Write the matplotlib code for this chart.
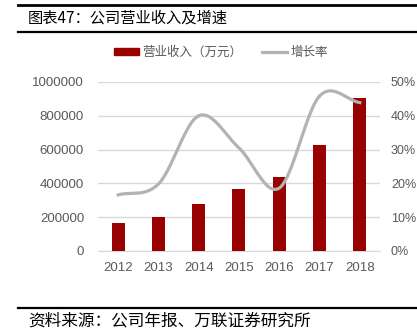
import numpy as np
import matplotlib
matplotlib.use("Agg")
import matplotlib.pyplot as plt
from matplotlib.lines import Line2D
from matplotlib.patches import Patch
from matplotlib.ticker import FuncFormatter

years = ["2012", "2013", "2014", "2015", "2016", "2017", "2018"]
revenue = [165000, 199000, 278000, 367000, 436000, 627000, 903000]
growth = [16.6, 19.8, 40.0, 30.5, 18.6, 45.8, 43.9]

plt.rcParams['font.family'] = ['Noto Sans CJK SC', 'DejaVu Sans']


def smooth(xs, ys, n=30):
    # Catmull-Rom curve through the points (like Excel smoothed line)
    xs = np.asarray(xs, float)
    ys = np.asarray(ys, float)
    px = np.concatenate([[2 * xs[0] - xs[1]], xs, [2 * xs[-1] - xs[-2]]])
    py = np.concatenate([[2 * ys[0] - ys[1]], ys, [2 * ys[-1] - ys[-2]]])
    ox, oy = [], []
    t = np.linspace(0, 1, n)
    for i in range(1, len(px) - 2):
        for p, o in ((px, ox), (py, oy)):
            p0, p1, p2, p3 = p[i - 1], p[i], p[i + 1], p[i + 2]
            o.extend(0.5 * ((2 * p1) + (-p0 + p2) * t
                            + (2 * p0 - 5 * p1 + 4 * p2 - p3) * t ** 2
                            + (-p0 + 3 * p1 - 3 * p2 + p3) * t ** 3))
    return ox, oy


fig = plt.figure(figsize=(4.17, 3.36), dpi=100)
ax = fig.add_axes([0.235, 0.253, 0.676, 0.503])
ax2 = ax.twinx()

x = np.arange(len(years))
bar_color = '#990000'
line_color = '#B3B3B3'
tick_color = '#595959'

ax.bar(x, revenue, width=0.32, color=bar_color, zorder=3)
ax.set_ylim(0, 1000000)
ax.set_yticks(range(0, 1000001, 200000))
ax.yaxis.set_major_formatter(FuncFormatter(lambda v, p: f"{int(v)}"))
ax.set_xlim(-0.5, len(years) - 0.5)
ax.set_xticks(x)
ax.set_xticklabels(years)
ax.yaxis.grid(True, color='#D9D9D9', linewidth=1, zorder=0)
ax.set_axisbelow(True)

sx, sy = smooth(x, growth)
ax2.plot(sx, sy, color=line_color, linewidth=2.3, zorder=4)
ax2.set_ylim(0, 50)
ax2.set_yticks(range(0, 51, 10))
ax2.set_yticklabels([f"{v}%" for v in range(0, 51, 10)])

for a in (ax, ax2):
    for s in a.spines.values():
        s.set_visible(False)
    a.tick_params(length=0, colors=tick_color, labelsize=9.5)
    for lab in a.get_xticklabels() + a.get_yticklabels():
        lab.set_fontfamily(['Liberation Sans', 'DejaVu Sans'])
ax.spines['bottom'].set_visible(True)
ax.spines['bottom'].set_color('#D9D9D9')
ax.tick_params(axis='y', pad=10)
ax.tick_params(axis='x', pad=8)
ax2.tick_params(axis='y', pad=8, labelsize=9)

handles = [Patch(color=bar_color), Line2D([], [], color=line_color, linewidth=2.3)]
fig.legend(handles, ["营业收入（万元）", "增长率"], loc='center',
           bbox_to_anchor=(0.53, 0.845), ncol=2, frameon=False,
           fontsize=9, labelcolor=tick_color, handlelength=2.0,
           handleheight=0.5, columnspacing=1.6, handletextpad=0.3)

# header and footer rules
fig.add_artist(Line2D([0.043, 1.0], [0.985, 0.985], color='black', linewidth=2))
fig.add_artist(Line2D([0.043, 1.0], [0.905, 0.905], color='black', linewidth=1.6))
fig.add_artist(Line2D([0.043, 1.0], [0.083, 0.083], color='black', linewidth=1.6))
fig.text(0.067, 0.945, "图表47：公司营业收入及增速", fontsize=11, va='center', color='black')
fig.text(0.067, 0.046, "资料来源：公司年报、万联证券研究所", fontsize=12, va='center',
         color='black', style='italic')

fig.savefig("out.png", dpi=100)
